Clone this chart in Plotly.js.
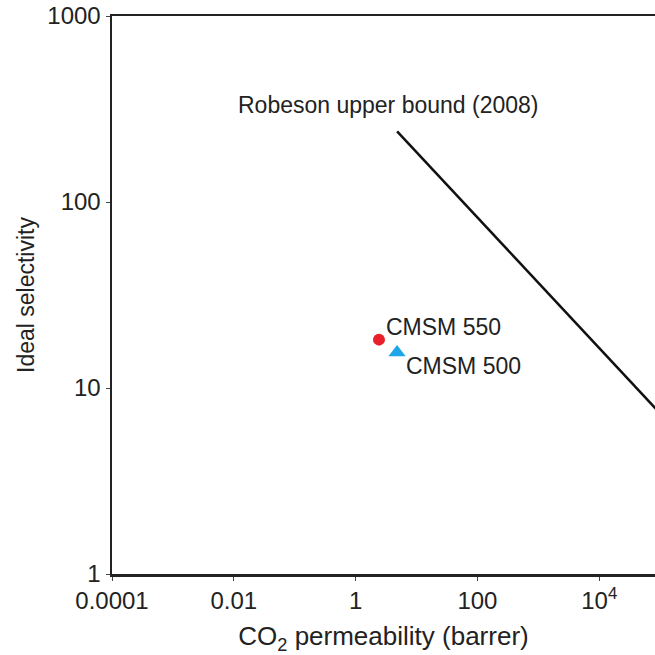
<!DOCTYPE html>
<html>
<head>
<meta charset="utf-8">
<script src="https://cdn.plot.ly/plotly-3.0.1.min.js"></script>
<style>html,body{margin:0;padding:0;background:#fff}#chart{width:655px;height:655px}</style>
</head>
<body>
<div id="chart"></div>
<script>
// Data
const robesonPerm = [4.8, 1.0e5];
const robesonSel = [240, 7.3];
const sampleNames = ["CMSM 550", "CMSM 500"];
const samplePerm = [2.42, 4.79];
const sampleSel = [18.2, 15.5];
const sampleColors = ["#e8202a", "#1ea7e8"];
const sampleSymbols = ["circle", "triangle-up"];
const sampleSizes = [12, 15];
const xTickVals = [0.0001, 0.01, 1, 100, 10000];
const xTickText = ["0.0001", "0.01", "1", "100", "10<sup>4</sup>"];
const yTickVals = [1, 10, 100, 1000];
const yTickText = ["1", "10", "100", "1000"];

const FONT = "Liberation Sans, Arial, sans-serif";
const TXT = "#222222";

const traces = [
  {
    x: robesonPerm, y: robesonSel, mode: "lines", type: "scatter",
    line: {color: "#111111", width: 2.5}, showlegend: false, hoverinfo: "skip"
  }
];
sampleNames.forEach((n, i) => {
  traces.push({
    x: [samplePerm[i]], y: [sampleSel[i]], mode: "markers", type: "scatter", name: n,
    marker: {color: sampleColors[i], symbol: sampleSymbols[i], size: sampleSizes[i], line: {width: 0}},
    showlegend: false
  });
});

const shifts = [[5, 13], [7, -13]];
const annotations = sampleNames.map((n, i) => ({
  x: Math.log10(samplePerm[i]), y: Math.log10(sampleSel[i]), xref: "x", yref: "y",
  text: n, showarrow: false, xanchor: "left", yanchor: "middle",
  xshift: shifts[i][0], yshift: shifts[i][1],
  font: {family: FONT, size: 23, color: TXT}
}));
annotations.push({
  x: 0.510, y: 0.840, xref: "paper", yref: "paper", text: "Robeson upper bound (2008)",
  showarrow: false, xanchor: "center", yanchor: "middle",
  font: {family: FONT, size: 23, color: TXT}
});

const layout = {
  width: 655, height: 655,
  margin: {l: 112, r: 0, t: 16, b: 81},
  paper_bgcolor: "#fff", plot_bgcolor: "#fff",
  showlegend: false,
  font: {family: FONT, size: 23, color: TXT},
  xaxis: {
    type: "log", range: [-4, 4.916],
    tickvals: xTickVals, ticktext: xTickText,
    showgrid: false, zeroline: false,
    showline: true, linecolor: "#222", linewidth: 2.5, mirror: true,
    ticks: "outside", ticklen: 4, tickwidth: 1, tickcolor: "#444",
    tickfont: {family: FONT, size: 24, color: TXT},
    title: {text: "CO<sub>2</sub> permeability (barrer)", standoff: 14, font: {family: FONT, size: 26, color: TXT}}
  },
  yaxis: {
    type: "log", range: [0, 3],
    tickvals: yTickVals, ticktext: yTickText,
    showgrid: false, zeroline: false,
    showline: true, linecolor: "#222", linewidth: 2.5,
    ticks: "outside", ticklen: 4, tickwidth: 1, tickcolor: "#444",
    tickfont: {family: FONT, size: 24, color: TXT},
    title: {text: "Ideal selectivity", standoff: 7, font: {family: FONT, size: 23, color: TXT}}
  },
  annotations: annotations
};

Plotly.newPlot("chart", traces, layout, {displayModeBar: false, staticPlot: true});
</script>
</body>
</html>
